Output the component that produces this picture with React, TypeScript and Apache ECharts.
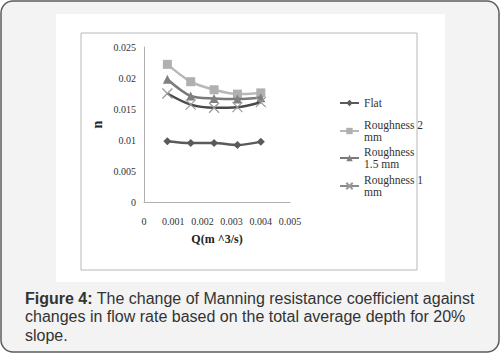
import React, { useEffect, useRef } from "react";
import * as echarts from "echarts";

const flowRates = [0.0008, 0.0016, 0.0024, 0.0032, 0.004];
const flat = [0.0098, 0.0095, 0.0095, 0.0092, 0.0097];
const rough2 = [0.0222, 0.0194, 0.0181, 0.0174, 0.0176];
const rough15 = [0.0198, 0.0171, 0.0167, 0.0166, 0.0168];
const rough1 = [0.0175, 0.0157, 0.0152, 0.0153, 0.0161];

const seriesNames = ["Flat", "Roughness 2\nmm", "Roughness\n1.5 mm", "Roughness 1\nmm"];
const xTicks = { min: 0, max: 0.005, interval: 0.001 };
const yTicks = { min: 0, max: 0.025, interval: 0.005 };

const captionBold = "Figure 4:";
const captionRest = [
  " The change of Manning resistance coefficient against",
  "changes in flow rate based on the total average depth for 20%",
  "slope.",
];

const pairs = (ys: number[]) => flowRates.map((x, i) => [x, ys[i]]);

const SERIF = "'Liberation Serif', 'Times New Roman', serif";
const SANS = "'Liberation Sans', Arial, sans-serif";

export default function App() {
  const ref = useRef<HTMLDivElement>(null);
  useEffect(() => {
    if (!ref.current) return;
    const chart = echarts.init(ref.current, null, { renderer: "svg" });
    const legendText = (twoLine: boolean) => ({
      fontFamily: SERIF,
      fontSize: 11.5,
      color: "#333",
      lineHeight: 12,
      padding: twoLine ? [12, 0, 0, 0] : 0,
    });
    const mkLegend = (name: string, top: number, twoLine: boolean, lineColor?: string) => {
      const l: any = {
        data: [name],
        left: 339,
        top,
        orient: "vertical",
        padding: 0,
        itemWidth: 19,
        itemHeight: 8,
        itemGap: 0,
        textStyle: legendText(twoLine),
        selectedMode: false,
      };
      if (lineColor) l.lineStyle = { color: lineColor };
      return l;
    };
    const option: any = {
      animation: false,
      graphic: {
        z: -10,
        elements: [
          {
            type: "rect",
            shape: { x: 1, y: 1, width: 498, height: 351, r: 12 },
            style: { fill: "#f2f3f2", stroke: "#5c5c5c", lineWidth: 1.5 },
            z: -10,
          },
          {
            type: "rect",
            shape: { x: 56, y: 14, width: 389, height: 268 },
            style: { fill: "#ffffff" },
            z: -9,
          },
          {
            type: "rect",
            shape: { x: 81, y: 33, width: 336, height: 237 },
            style: { fill: "#ffffff", stroke: "#b8b8b8", lineWidth: 1 },
            z: -8,
          },
          {
            type: "text",
            x: 25,
            y: 289,
            style: {
              text:
                "{b|" + captionBold + "}" + captionRest[0] + "\n" + captionRest[1] + "\n" + captionRest[2],
              font: `16px ${SANS}`,
              fill: "#333",
              lineHeight: 18.5,
              rich: {
                b: { fontWeight: "bold", fontFamily: SANS, fontSize: 16, fill: "#333", lineHeight: 18.5 },
              },
            },
            z: -7,
          },
        ],
      },
      legend: [
        mkLegend(seriesNames[0], 97, false),
        mkLegend(seriesNames[1], 113, true),
        mkLegend(seriesNames[2], 140, true),
        mkLegend(seriesNames[3], 168, true, "#8a8a8a"),
      ],
      grid: { left: 144, right: 211, top: 47, bottom: 153, containLabel: false },
      xAxis: {
        type: "value",
        ...xTicks,
        name: "Q(m ^3/s)",
        nameLocation: "middle",
        nameGap: 31,
        nameTextStyle: { fontFamily: SERIF, fontSize: 12, fontWeight: "bold", color: "#222" },
        axisLine: { show: true, lineStyle: { color: "#b0b0b0", width: 1 } },
        axisTick: { show: false },
        splitLine: { show: false },
        axisLabel: {
          fontFamily: SERIF,
          fontSize: 10,
          color: "#333",
          margin: 14,
          formatter: (v: number) => (v === 0 ? "0" : String(+v.toFixed(3))),
        },
      },
      yAxis: {
        type: "value",
        ...yTicks,
        name: "n",
        nameLocation: "middle",
        nameGap: 40,
        nameRotate: 90,
        nameTextStyle: { fontFamily: SERIF, fontSize: 14, fontWeight: "bold", color: "#222" },
        axisLine: { show: true, lineStyle: { color: "#b0b0b0", width: 1 } },
        axisTick: { show: false },
        splitLine: { show: false },
        axisLabel: {
          fontFamily: SERIF,
          fontSize: 10,
          color: "#333",
          margin: 8,
          formatter: (v: number) => (v === 0 ? "0" : String(+v.toFixed(3))),
        },
      },
      series: [
        {
          name: seriesNames[0],
          type: "line",
          smooth: 0.3,
          data: pairs(flat),
          symbol: "diamond",
          symbolSize: 8,
          lineStyle: { color: "#5a5a5a", width: 2.5 },
          itemStyle: { color: "#5a5a5a" },
          z: 3,
        },
        {
          name: seriesNames[1],
          type: "line",
          smooth: 0.3,
          data: pairs(rough2),
          symbol: "rect",
          symbolSize: 9,
          lineStyle: { color: "#b8b8b8", width: 2.5 },
          itemStyle: { color: "#b0b0b0" },
          z: 3,
        },
        {
          name: seriesNames[2],
          type: "line",
          smooth: 0.3,
          data: pairs(rough15),
          symbol: "triangle",
          symbolSize: 9,
          lineStyle: { color: "#7a7a7a", width: 2.5 },
          itemStyle: { color: "#808080" },
          z: 4,
        },
        {
          name: seriesNames[3],
          type: "line",
          smooth: 0.3,
          data: pairs(rough1),
          symbol: "path://M0,0 L10,10 M10,0 L0,10",
          symbolSize: 10,
          lineStyle: { color: "#4a4a4a", width: 2.5 },
          itemStyle: { color: "none", borderColor: "#9a9a9a", borderWidth: 1.2 },
          z: 5,
        },
      ],
    };
    chart.setOption(option);
    return () => chart.dispose();
  }, []);
  return (
    <div
      ref={ref}
      style={{ position: "absolute", left: 0, top: 0, width: 501, height: 355 }}
    />
  );
}
